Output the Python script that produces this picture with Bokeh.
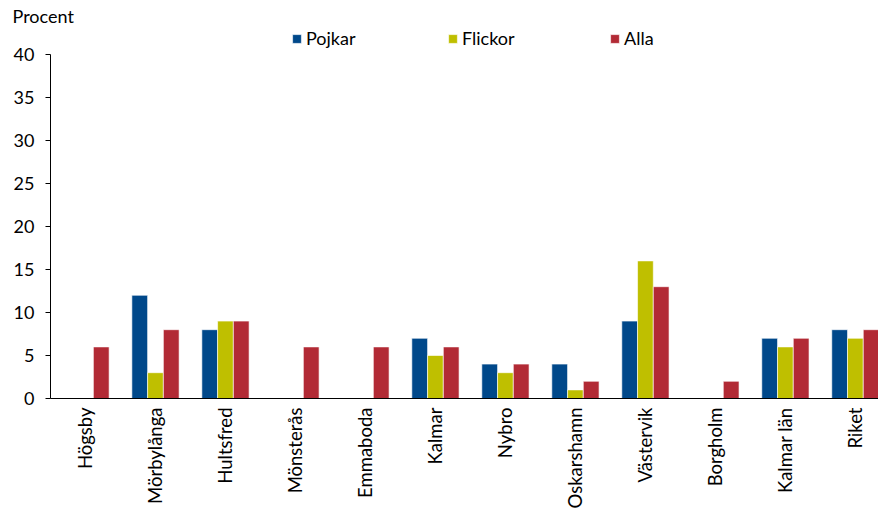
import numpy as np
from bokeh.plotting import figure
from bokeh.models import Range1d, FixedTicker, Legend, LegendItem, ColumnDataSource
from bokeh.embed import file_html
from bokeh.resources import INLINE

categories = ["Högsby", "Mörbylånga", "Hultsfred", "Mönsterås", "Emmaboda", "Kalmar",
              "Nybro", "Oskarshamn", "Västervik", "Borgholm", "Kalmar län", "Riket"]
nan = float("nan")
pojkar = [nan, 12, 8, nan, nan, 7, 4, 4, 9, nan, 7, 8]
flickor = [nan, 3, 9, nan, nan, 5, 3, 1, 16, nan, 6, 7]
alla = [6, 8, 9, 6, 6, 6, 4, 2, 13, 2, 7, 8]
series_names = ["Pojkar", "Flickor", "Alla"]
colors = ["#00488a", "#bfbf00", "#b22a35"]
y_ticks = [0, 5, 10, 15, 20, 25, 30, 35, 40]

FONT = "Lato"
TOP = 20
p = figure(width=878, height=512, output_backend="svg", toolbar_location=None,
           x_range=Range1d(0, 11.83), y_range=Range1d(0, 40 + (54 - TOP) / 8.6),
           min_border_left=50, min_border_right=0, min_border_top=TOP, min_border_bottom=114,
           title="Procent")
p.outline_line_color = None
p.xgrid.visible = False
p.ygrid.visible = False
p.title.align = "left"
p.title.offset = -38
p.title.standoff = -12
p.title.text_font = FONT
p.title.text_font_size = "18px"
p.title.text_font_style = "normal"
p.title.text_color = "black"

centers = np.arange(len(categories)) + 0.5
bw = 0.225
offsets = [-bw, 0, bw]
renderers = []
for vals, off, col in zip([pojkar, flickor, alla], offsets, colors):
    src = ColumnDataSource(dict(x=centers + off, top=np.array(vals, dtype=float)))
    r = p.vbar(x="x", top="top", bottom=0, width=bw, source=src,
               fill_color=col, line_color="white", line_width=1, line_alpha=0.6)
    renderers.append(r)

# x axis
p.xaxis.ticker = FixedTicker(ticks=list(centers))
p.xaxis.major_label_overrides = {float(c): n for c, n in zip(centers, categories)}
p.xaxis.major_label_orientation = np.pi / 2
p.xaxis.major_tick_line_color = None
p.xaxis.major_tick_out = 0
p.xaxis.major_tick_in = 0
p.xaxis.minor_tick_line_color = None
p.xaxis.minor_tick_out = 0
p.xaxis.major_label_text_font = FONT
p.xaxis.major_label_text_font_size = "18.5px"
p.xaxis.major_label_text_color = "black"
p.xaxis.major_label_standoff = 9
p.xaxis.axis_line_color = "black"

# y axis
p.yaxis.ticker = FixedTicker(ticks=y_ticks)
p.yaxis.bounds = (0, 40)
p.yaxis.minor_tick_line_color = None
p.yaxis.major_tick_out = 5
p.yaxis.major_tick_in = 0
p.yaxis.major_tick_line_color = "black"
p.yaxis.axis_line_color = "black"
p.yaxis.major_label_text_font = FONT
p.yaxis.major_label_text_font_size = "18px"
p.yaxis.major_label_text_color = "black"
p.yaxis.major_label_standoff = 11

legend_x = [241, 397, 559]
for n, r, lx in zip(series_names, renderers, legend_x):
    lg = Legend(items=[LegendItem(label=n, renderers=[r])],
                orientation="horizontal", location=(lx, 349),
                glyph_width=11, glyph_height=11, label_standoff=4, spacing=0,
                padding=0, margin=0, border_line_color=None, background_fill_alpha=0,
                label_text_font=FONT, label_text_font_size="18px", label_text_color="black")
    p.add_layout(lg)

open("out.html", "w").write(file_html(p, INLINE))
